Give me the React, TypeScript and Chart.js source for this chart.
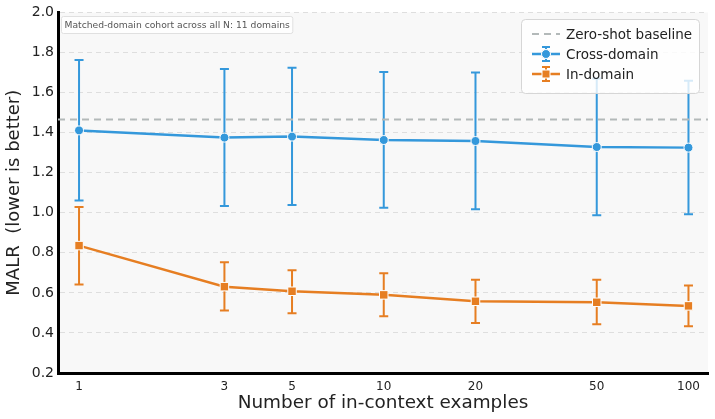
import { useEffect, useRef } from 'react';
import { Chart, registerables } from 'chart.js';

Chart.register(...registerables);

// Number of in-context examples (log-scaled x axis)
const shots = [1, 3, 5, 10, 20, 50, 100];
const shotLabels = ['1', '3', '5', '10', '20', '50', '100'];

// Cross-domain MALR: mean with lower / upper error bounds
const crossMean = [1.411, 1.375, 1.38, 1.363, 1.358, 1.328, 1.325];
const crossLow = [1.061, 1.033, 1.038, 1.025, 1.017, 0.987, 0.992];
const crossHigh = [1.762, 1.717, 1.724, 1.702, 1.7, 1.67, 1.659];

// In-domain MALR: mean with lower / upper error bounds
const inMean = [0.836, 0.631, 0.608, 0.59, 0.558, 0.553, 0.535];
const inLow = [0.642, 0.512, 0.498, 0.483, 0.45, 0.443, 0.433];
const inHigh = [1.028, 0.753, 0.713, 0.698, 0.665, 0.665, 0.637];

// Zero-shot reference level
const zeroShot = 1.466;

const yMin = 0.2;
const yMax = 2.0;
const xMin = 0.853;
const xMax = 115.9;

const noteText = 'Matched-domain cohort across all N: 11 domains';
const legendLabels = ['Zero-shot baseline', 'Cross-domain', 'In-domain'];

const BLUE = '#3498db';
const ORANGE = '#e67e22';
const GREY = '#b3b9b9';
const FONT = "'DejaVu Sans', sans-serif";

function roundRect(ctx: CanvasRenderingContext2D, x: number, y: number, w: number, h: number, r: number) {
  ctx.beginPath();
  ctx.moveTo(x + r, y);
  ctx.lineTo(x + w - r, y);
  ctx.arcTo(x + w, y, x + w, y + r, r);
  ctx.lineTo(x + w, y + h - r);
  ctx.arcTo(x + w, y + h, x + w - r, y + h, r);
  ctx.lineTo(x + r, y + h);
  ctx.arcTo(x, y + h, x, y + h - r, r);
  ctx.lineTo(x, y + r);
  ctx.arcTo(x, y, x + r, y, r);
  ctx.closePath();
}

const plotBackground = {
  id: 'plotBackground',
  beforeDraw(chart: any) {
    const { ctx, chartArea } = chart;
    ctx.save();
    ctx.fillStyle = '#f8f8f8';
    ctx.fillRect(chartArea.left, chartArea.top, chartArea.right - chartArea.left, chartArea.bottom - chartArea.top);
    ctx.restore();
  },
};

// Vertical error bars with caps, drawn beneath lines and markers
const errorBars = {
  id: 'errorBars',
  beforeDatasetsDraw(chart: any) {
    const { ctx, scales } = chart;
    const xs = scales.x;
    const ys = scales.y;
    const series = [
      { lo: crossLow, hi: crossHigh, color: BLUE },
      { lo: inLow, hi: inHigh, color: ORANGE },
    ];
    ctx.save();
    ctx.lineWidth = 2;
    for (const s of series) {
      ctx.strokeStyle = s.color;
      shots.forEach((v, i) => {
        const px = xs.getPixelForValue(v);
        const pLo = ys.getPixelForValue(s.lo[i]);
        const pHi = ys.getPixelForValue(s.hi[i]);
        ctx.beginPath();
        ctx.moveTo(px, pLo);
        ctx.lineTo(px, pHi);
        ctx.moveTo(px - 4.5, pLo);
        ctx.lineTo(px + 4.5, pLo);
        ctx.moveTo(px - 4.5, pHi);
        ctx.lineTo(px + 4.5, pHi);
        ctx.stroke();
      });
    }
    ctx.restore();
  },
};

// Note box and legend box overlaid on the plot
const overlays = {
  id: 'overlays',
  afterDraw(chart: any) {
    const { ctx } = chart;
    ctx.save();

    // note box
    ctx.font = `9.2px ${FONT}`;
    const tw = ctx.measureText(noteText).width;
    roundRect(ctx, 61.5, 16.5, tw + 6, 17, 2);
    ctx.fillStyle = 'rgba(255,255,255,0.85)';
    ctx.fill();
    ctx.strokeStyle = '#e0e0e0';
    ctx.lineWidth = 1;
    ctx.stroke();
    ctx.fillStyle = '#555555';
    ctx.textBaseline = 'middle';
    ctx.textAlign = 'left';
    ctx.fillText(noteText, 64.5, 25.5);

    // legend box
    roundRect(ctx, 521.5, 19.5, 178, 74, 4);
    ctx.fillStyle = 'rgba(255,255,255,0.8)';
    ctx.fill();
    ctx.strokeStyle = '#d6d6d6';
    ctx.stroke();

    const hx0 = 532;
    const hx1 = 560;
    const hc = (hx0 + hx1) / 2;
    const rows = [34, 54, 74];

    // zero-shot handle
    ctx.strokeStyle = GREY;
    ctx.lineWidth = 2;
    ctx.setLineDash([7, 5]);
    ctx.beginPath();
    ctx.moveTo(hx0, rows[0]);
    ctx.lineTo(hx1, rows[0]);
    ctx.stroke();
    ctx.setLineDash([]);

    const handle = (y: number, color: string, square: boolean) => {
      ctx.strokeStyle = color;
      ctx.lineWidth = 2.5;
      ctx.beginPath();
      ctx.moveTo(hx0, y);
      ctx.lineTo(hx1, y);
      ctx.stroke();
      ctx.lineWidth = 2;
      ctx.beginPath();
      ctx.moveTo(hc, y - 7);
      ctx.lineTo(hc, y + 7);
      ctx.moveTo(hc - 4, y - 7);
      ctx.lineTo(hc + 4, y - 7);
      ctx.moveTo(hc - 4, y + 7);
      ctx.lineTo(hc + 4, y + 7);
      ctx.stroke();
      ctx.fillStyle = color;
      ctx.strokeStyle = '#ffffff';
      ctx.lineWidth = 1;
      ctx.beginPath();
      if (square) ctx.rect(hc - 4, y - 4, 8, 8);
      else ctx.arc(hc, y, 4.5, 0, Math.PI * 2);
      ctx.fill();
      ctx.stroke();
    };
    handle(rows[1], BLUE, false);
    handle(rows[2], ORANGE, true);

    ctx.fillStyle = '#222222';
    ctx.font = `13.5px ${FONT}`;
    ctx.textBaseline = 'middle';
    legendLabels.forEach((t, i) => ctx.fillText(t, 566, rows[i] + 1));

    ctx.restore();
  },
};

export default function App() {
  const canvasRef = useRef<HTMLCanvasElement | null>(null);

  useEffect(() => {
    const canvas = canvasRef.current;
    if (!canvas) return;
    const chart = new Chart(canvas, {
      type: 'line',
      data: {
        datasets: [
          {
            label: legendLabels[0],
            data: [
              { x: xMin, y: zeroShot },
              { x: xMax, y: zeroShot },
            ],
            borderColor: GREY,
            borderWidth: 2,
            borderDash: [7, 5],
            pointRadius: 0,
            order: 3,
          },
          {
            label: legendLabels[1],
            data: shots.map((x, i) => ({ x, y: crossMean[i] })),
            borderColor: BLUE,
            backgroundColor: BLUE,
            borderWidth: 2.5,
            pointStyle: 'circle',
            pointRadius: 4.5,
            pointBorderColor: '#ffffff',
            pointBorderWidth: 1,
            pointBackgroundColor: BLUE,
            order: 2,
          },
          {
            label: legendLabels[2],
            data: shots.map((x, i) => ({ x, y: inMean[i] })),
            borderColor: ORANGE,
            backgroundColor: ORANGE,
            borderWidth: 2.5,
            pointStyle: 'rect',
            pointRadius: 6,
            pointBorderColor: '#ffffff',
            pointBorderWidth: 1,
            pointBackgroundColor: ORANGE,
            order: 1,
          },
        ],
      },
      options: {
        responsive: false,
        animation: false,
        events: [],
        layout: { padding: { top: 12, right: 7, left: 0, bottom: 0 } },
        plugins: {
          legend: { display: false },
          tooltip: { enabled: false },
        },
        scales: {
          x: {
            type: 'logarithmic',
            min: xMin,
            max: xMax,
            afterBuildTicks: (scale: any) => {
              scale.ticks = shots.map((v) => ({ value: v }));
            },
            afterFit: (scale: any) => {
              scale.height = 46;
            },
            ticks: {
              autoSkip: false,
              maxRotation: 0,
              padding: 7,
              color: '#222222',
              font: { family: FONT, size: 12 },
              callback: (v: any) => {
                const i = shots.indexOf(Number(v));
                return i >= 0 ? shotLabels[i] : '';
              },
            },
            grid: { display: false, drawTicks: false },
            border: { display: true, color: '#000000', width: 3 },
            title: {
              display: true,
              text: 'Number of in-context examples',
              color: '#222222',
              font: { family: FONT, size: 18.4 },
              padding: { top: 0, bottom: 5 },
            },
          },
          y: {
            type: 'linear',
            min: yMin,
            max: yMax,
            afterFit: (scale: any) => {
              scale.width = 58;
            },
            ticks: {
              stepSize: 0.2,
              padding: 4,
              color: '#222222',
              font: { family: FONT, size: 14 },
              callback: (v: any) => Number(v).toFixed(1),
            },
            grid: { color: '#dedede', lineWidth: 1, drawTicks: false },
            border: { display: true, color: '#000000', width: 3, dash: [5, 4] },
            title: {
              display: true,
              text: 'MALR  (lower is better)',
              color: '#222222',
              font: { family: FONT, size: 18 },
              padding: { top: 4, bottom: 0 },
            },
          },
        },
      },
      plugins: [plotBackground, errorBars, overlays],
    } as any);
    return () => chart.destroy();
  }, []);

  return (
    <div style={{ position: 'fixed', left: 0, top: 0, width: 715, height: 419, background: '#ffffff' }}>
      <canvas ref={canvasRef} width={715} height={419} style={{ display: 'block' }} />
    </div>
  );
}
